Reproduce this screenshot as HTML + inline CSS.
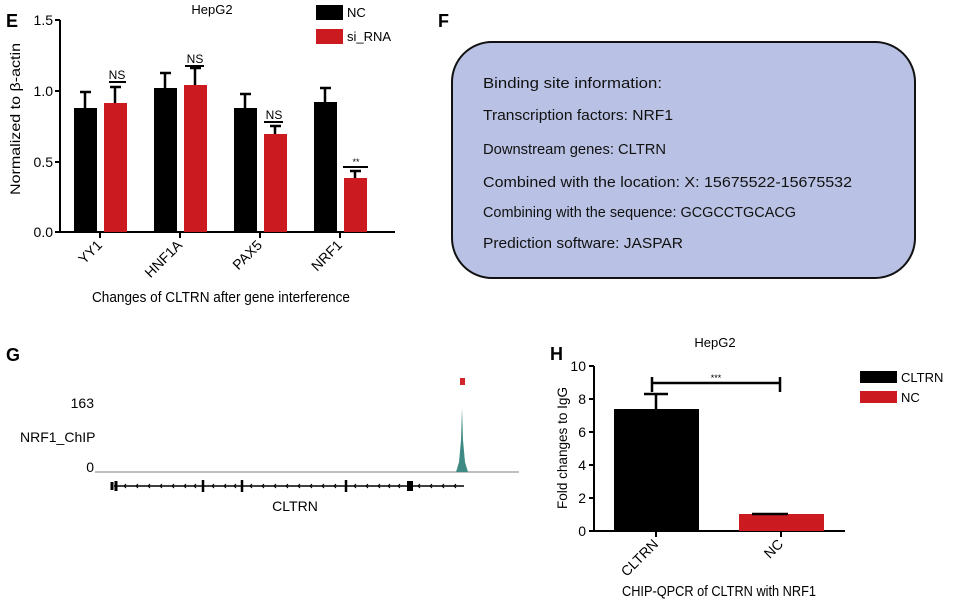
<!DOCTYPE html>
<html><head><meta charset="utf-8"><style>
html,body{margin:0;padding:0;background:#fff}
svg{display:block;font-family:"Liberation Sans Narrow","Liberation Sans",sans-serif}
</style></head><body>
<svg width="979" height="607" viewBox="0 0 979 607" xmlns="http://www.w3.org/2000/svg">
<!-- Panel E -->
<text x="6" y="27" font-size="18" font-weight="bold" font-family="Liberation Sans">E</text>
<text x="212" y="14" font-size="13" text-anchor="middle">HepG2</text>
<g stroke="#000" stroke-width="2" fill="none">
<path d="M60,20 V232 H395"/>
<path d="M55,20H60 M55,91H60 M55,162H60 M55,232H60"/>
<path d="M100,232v6 M180,232v6 M260,232v6 M340,232v6"/>
</g>
<g font-size="14" text-anchor="end">
<text x="53" y="25">1.5</text><text x="53" y="96">1.0</text><text x="53" y="167">0.5</text><text x="53" y="237">0.0</text>
</g>
<text transform="translate(20,195) rotate(-90)" font-size="14" textLength="152" lengthAdjust="spacingAndGlyphs">Normalized to β-actin</text>
<g fill="#000">
<rect x="74" y="108" width="23" height="124"/>
<rect x="154" y="88" width="23" height="144"/>
<rect x="234" y="108" width="23" height="124"/>
<rect x="314" y="102" width="23" height="130"/>
</g>
<g fill="#cc1b20">
<rect x="104" y="103" width="23" height="129"/>
<rect x="184" y="85" width="23" height="147"/>
<rect x="264" y="134" width="23" height="98"/>
<rect x="344" y="178" width="23" height="54"/>
</g>
<g stroke="#000" stroke-width="2.5">
<path d="M85,108V92 M80,92H91"/>
<path d="M115,103V87 M110,87H121"/>
<path d="M165,88V73 M160,73H171"/>
<path d="M195,85V68 M190,68H201"/>
<path d="M245,108V94 M240,94H251"/>
<path d="M275,134V126 M270,126H281"/>
<path d="M325,102V88 M320,88H331"/>
<path d="M355,178V171 M350,171H361"/>
</g>
<g stroke="#000" stroke-width="2">
<path d="M109,82H126 M185,66H204 M264,122H283 M343,167H368"/>
</g>
<g font-size="12" text-anchor="middle">
<text x="117" y="79">NS</text><text x="195" y="63">NS</text><text x="274" y="119">NS</text><text x="356" y="165" font-size="9">**</text>
</g>
<g font-size="14" text-anchor="end">
<text transform="translate(103,246) rotate(-45)">YY1</text>
<text transform="translate(183,246) rotate(-45)">HNF1A</text>
<text transform="translate(263,246) rotate(-45)">PAX5</text>
<text transform="translate(343,246) rotate(-45)">NRF1</text>
</g>
<text x="92" y="302" font-size="15" textLength="258" lengthAdjust="spacingAndGlyphs">Changes of CLTRN after gene interference</text>
<rect x="316" y="5" width="27" height="15" fill="#000"/>
<rect x="316" y="29" width="27" height="15" fill="#cc1b20"/>
<text x="347" y="17" font-size="13">NC</text>
<text x="347" y="41" font-size="13">si_RNA</text>

<!-- Panel F -->
<text x="438" y="27" font-size="18" font-weight="bold" font-family="Liberation Sans">F</text>
<rect x="452" y="42" width="463" height="236" rx="40" ry="40" fill="#b9c2e4" stroke="#111" stroke-width="2"/>
<g font-size="15" fill="#111" lengthAdjust="spacingAndGlyphs">
<text x="483" y="88" textLength="179" lengthAdjust="spacingAndGlyphs">Binding site information:</text>
<text x="483" y="120" textLength="190" lengthAdjust="spacingAndGlyphs">Transcription factors: NRF1</text>
<text x="483" y="154" textLength="183" lengthAdjust="spacingAndGlyphs">Downstream genes: CLTRN</text>
<text x="483" y="187" textLength="369" lengthAdjust="spacingAndGlyphs">Combined with the location: X: 15675522-15675532</text>
<text x="483" y="217" textLength="313" lengthAdjust="spacingAndGlyphs">Combining with the sequence: GCGCCTGCACG</text>
<text x="483" y="248" textLength="200" lengthAdjust="spacingAndGlyphs">Prediction software: JASPAR</text>
</g>

<!-- Panel G -->
<text x="6" y="361" font-size="18" font-weight="bold" font-family="Liberation Sans">G</text>
<text x="94" y="408" font-size="14" text-anchor="end">163</text>
<text x="20" y="442" font-size="14">NRF1_ChIP</text>
<text x="94" y="472" font-size="14" text-anchor="end">0</text>
<rect x="460" y="378" width="5" height="7" fill="#d0262b"/>
<path d="M95,472 H519" stroke="#aaa" stroke-width="1.5"/>
<path d="M456,472 L459,462 L461,440 L462,408 L463,440 L465,462 L468,472 Z" fill="#3f8a85"/>
<g stroke="#000">
<path d="M114,486H464" stroke-width="1.5"/>
<path d="M112,482V490 M116,481V491" stroke-width="3"/>
<path d="M203,480V492 M242,480V492 M346,480V492" stroke-width="2.5"/>
<path d="M408,482h4v8h-4z" stroke-width="2"/>
</g>
<g stroke="#000" stroke-width="1" fill="none">
<path d="M126,484l-2,2 2,2 M138,484l-2,2 2,2 M150,484l-2,2 2,2 M162,484l-2,2 2,2 M174,484l-2,2 2,2 M186,484l-2,2 2,2 M196,484l-2,2 2,2 M214,484l-2,2 2,2 M226,484l-2,2 2,2 M236,484l-2,2 2,2 M252,484l-2,2 2,2 M264,484l-2,2 2,2 M276,484l-2,2 2,2 M288,484l-2,2 2,2 M300,484l-2,2 2,2 M312,484l-2,2 2,2 M324,484l-2,2 2,2 M336,484l-2,2 2,2 M356,484l-2,2 2,2 M368,484l-2,2 2,2 M380,484l-2,2 2,2 M390,484l-2,2 2,2 M400,484l-2,2 2,2 M420,484l-2,2 2,2 M432,484l-2,2 2,2 M444,484l-2,2 2,2 M456,484l-2,2 2,2"/>
</g>
<text x="295" y="511" font-size="14" text-anchor="middle">CLTRN</text>

<!-- Panel H -->
<text x="550" y="360" font-size="18" font-weight="bold" font-family="Liberation Sans">H</text>
<text x="715" y="347" font-size="13" text-anchor="middle">HepG2</text>
<g stroke="#000" stroke-width="2" fill="none">
<path d="M594,366 V531 H845"/>
<path d="M589,366H594 M589,399H594 M589,432H594 M589,465H594 M589,498H594 M589,531H594"/>
<path d="M656,531v6 M781,531v6"/>
</g>
<g font-size="14" text-anchor="end">
<text x="586" y="371">10</text><text x="586" y="404">8</text><text x="586" y="437">6</text><text x="586" y="470">4</text><text x="586" y="503">2</text><text x="586" y="536">0</text>
</g>
<text transform="translate(567,509) rotate(-90)" font-size="14" textLength="122" lengthAdjust="spacingAndGlyphs">Fold changes to IgG</text>
<rect x="614" y="409" width="85" height="122" fill="#000"/>
<rect x="739" y="514" width="85" height="17" fill="#cc1b20"/>
<g stroke="#000" stroke-width="2.5">
<path d="M656,409V394 M644,394H668"/>
<path d="M752,514H788"/>
<path d="M652,383H780 M652,377V392 M780,377V392"/>
</g>
<text x="716" y="381" font-size="9" text-anchor="middle">***</text>
<g font-size="14" text-anchor="end">
<text transform="translate(659,545) rotate(-45)">CLTRN</text>
<text transform="translate(784,545) rotate(-45)">NC</text>
</g>
<text x="622" y="596" font-size="15" textLength="194" lengthAdjust="spacingAndGlyphs">CHIP-QPCR of CLTRN with NRF1</text>
<rect x="860" y="371" width="37" height="12" fill="#000"/>
<rect x="860" y="391" width="37" height="12" fill="#cc1b20"/>
<text x="901" y="382" font-size="13">CLTRN</text>
<text x="901" y="402" font-size="13">NC</text>
</svg>
</body></html>
